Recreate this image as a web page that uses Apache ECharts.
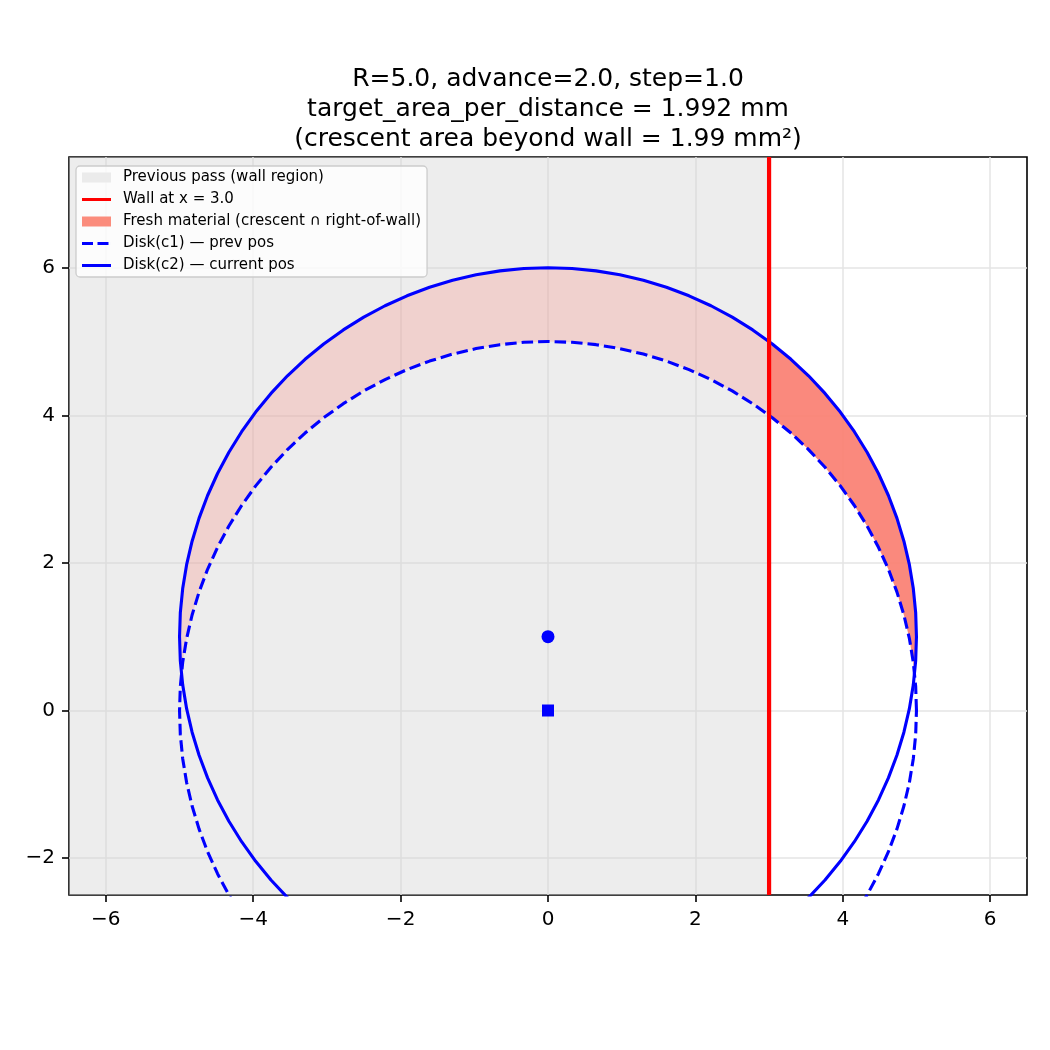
<!DOCTYPE html>
<html>
<head>
<meta charset="utf-8">
<script src="https://cdn.jsdelivr.net/npm/echarts@6/dist/echarts.min.js"></script>
<style>html,body{margin:0;padding:0;background:#fff;}#c{width:1050px;height:1050px;}</style>
</head>
<body>
<div id="c"></div>
<script>
// ---- parameters / data ----
const R = 5.0;
const c1 = [0, 0];          // previous position
const c2 = [0, 1];          // current position
const wallX = 3.0;
const xRange = [-6.5, 6.5];
const yRange = [-2.5, 7.5];
const xTicks = [-6, -4, -2, 0, 2, 4, 6];
const yTicks = [-2, 0, 2, 4, 6];
const titleLines = [
  'R=5.0, advance=2.0, step=1.0',
  'target_area_per_distance = 1.992 mm',
  '(crescent area beyond wall = 1.99 mm\u00b2)'
];
const legendNames = [
  'Previous pass (wall region)',
  'Wall at x = 3.0',
  'Fresh material (crescent \u2229 right-of-wall)',
  'Disk(c1) \u2014 prev pos',
  'Disk(c2) \u2014 current pos'
];

// ---- geometry derived from the parameters ----
const SEG = 96;
function vert(c, k) { const a = 2 * Math.PI * k / SEG; return [c[0] + R * Math.cos(a), c[1] + R * Math.sin(a)]; }
function ring(c) { const p = []; for (let k = 0; k <= SEG; k++) p.push(vert(c, k)); return p; }
const d = c2[1] - c1[1];
const yInt = c1[1] + d / 2;
const xInt = Math.sqrt(R * R - (yInt - c1[1]) * (yInt - c1[1]));
const a2lo = Math.asin((yInt - c2[1]) / R);         // c2 angle at intersection
const a1lo = Math.asin((yInt - c1[1]) / R);         // c1 angle at intersection
const aw2 = Math.acos((wallX - c2[0]) / R);         // c2 angle at wall
const aw1 = Math.acos((wallX - c1[0]) / R);         // c1 angle at wall
function arcVerts(c, a0, a1) { // vertices with angle strictly in (a0,a1), ascending
  const out = [];
  for (let k = -SEG; k <= SEG; k++) { const a = 2 * Math.PI * k / SEG; if (a > a0 && a < a1) out.push(vert(c, k)); }
  return out;
}
const crescent = [[xInt, yInt]].concat(arcVerts(c2, a2lo, Math.PI - a2lo), [[-xInt, yInt]], arcVerts(c1, a1lo, Math.PI - a1lo).reverse());
const fresh = [[xInt, yInt]].concat(arcVerts(c2, a2lo, aw2), [[wallX, c2[1] + R * Math.sin(aw2)], [wallX, c1[1] + R * Math.sin(aw1)]], arcVerts(c1, a1lo, aw1).reverse());
const wallRegion = [[xRange[0], yRange[0]], [wallX, yRange[0]], [wallX, yRange[1]], [xRange[0], yRange[1]]];

const FONT = 'DejaVu Sans';
const minus = v => (v < 0 ? '\u2212' + Math.abs(v) : String(v));

function polySeries(name, pts, color, z) {
  return {
    type: 'custom', name: name, coordinateSystem: 'cartesian2d', clip: true, z: z,
    silent: true, data: [[pts[0][0], pts[0][1]]],
    itemStyle: { color: color },
    renderItem: function (params, api) {
      return { type: 'polygon', shape: { points: pts.map(p => api.coord(p)) }, style: { fill: color } };
    }
  };
}

const chart = echarts.init(document.getElementById('c'), null, { renderer: 'canvas' });
const lineIcon = 'path://M0,0h29v3h-29z';
const dashIcon = 'path://M0,0h11v3h-11z M15.5,0h11v3h-11z M29,0h0.01v3h-0.01z';
chart.setOption({
  backgroundColor: '#fff',
  animation: false,
  title: {
    text: titleLines.join('\n'),
    left: 548, top: 64, padding: 0, textAlign: 'center',
    textStyle: { fontFamily: FONT, fontSize: 25, lineHeight: 30, fontWeight: 'normal', color: '#000' }
  },
  grid: {
    left: 69, right: 23, top: 157, bottom: 155, containLabel: false,
    show: true, borderColor: '#000', borderWidth: 1.6, backgroundColor: 'transparent'
  },
  legend: {
    orient: 'vertical', left: 76, top: 166, padding: [3.5, 6, 3.5, 6],
    itemWidth: 29, itemHeight: 10, itemGap: 6, selectedMode: false,
    backgroundColor: 'rgba(255,255,255,0.8)', borderColor: '#cccccc', borderWidth: 1.3, borderRadius: 4,
    itemStyle: { borderWidth: 0 },
    textStyle: { fontFamily: FONT, fontSize: 15, lineHeight: 16, color: '#000', padding: [0, 0, 0, 7] },
    data: [
      { name: legendNames[0], icon: 'rect', itemStyle: { color: '#ebebeb', borderWidth: 0 } },
      { name: legendNames[1], icon: lineIcon, itemStyle: { color: '#ff0000', borderWidth: 0 } },
      { name: legendNames[2], icon: 'rect', itemStyle: { color: '#fb8c7c', borderWidth: 0 } },
      { name: legendNames[3], icon: dashIcon, itemStyle: { color: '#0000ff', borderWidth: 0 } },
      { name: legendNames[4], icon: lineIcon, itemStyle: { color: '#0000ff', borderWidth: 0 } }
    ]
  },
  xAxis: {
    type: 'value', min: xRange[0], max: xRange[1],
    axisLine: { show: false, onZero: false },
    axisTick: { show: true, customValues: xTicks, length: 7, lineStyle: { color: '#000', width: 1.6 } },
    axisLabel: { customValues: xTicks, formatter: minus, fontFamily: FONT, fontSize: 20, color: '#000', margin: 15 },
    splitLine: { show: true, lineStyle: { color: '#e4e4e4', width: 1.5 } }
  },
  yAxis: {
    type: 'value', min: yRange[0], max: yRange[1],
    axisLine: { show: false, onZero: false },
    axisTick: { show: true, customValues: yTicks, length: 7, lineStyle: { color: '#000', width: 1.6 } },
    axisLabel: { customValues: yTicks, formatter: minus, fontFamily: FONT, fontSize: 20, color: '#000', margin: 14 },
    splitLine: { show: true, lineStyle: { color: '#e4e4e4', width: 1.5 } }
  },
  series: [
    polySeries(legendNames[0], wallRegion, 'rgba(211,211,211,0.42)', 1),
    polySeries('crescent', crescent, 'rgba(250,128,114,0.25)', 2),
    polySeries(legendNames[2], fresh, 'rgba(250,128,114,0.9)', 3),
    {
      type: 'line', name: legendNames[3], data: ring(c1), showSymbol: false, symbol: 'none', z: 4, silent: true,
      lineStyle: { color: '#0000ff', width: 3.1, type: [11.5, 5] }, itemStyle: { color: '#0000ff' }
    },
    {
      type: 'line', name: legendNames[4], data: ring(c2), showSymbol: false, symbol: 'none', z: 4, silent: true,
      lineStyle: { color: '#0000ff', width: 3.1 }, itemStyle: { color: '#0000ff' }
    },
    {
      type: 'line', name: legendNames[1], data: [[wallX, yRange[0]], [wallX, yRange[1]]], showSymbol: false, symbol: 'none', z: 5, silent: true,
      lineStyle: { color: '#ff0000', width: 4.2 }, itemStyle: { color: '#ff0000' }
    },
    {
      type: 'scatter', name: 'c1', data: [c1], symbol: 'rect', symbolSize: 12, z: 6, silent: true,
      itemStyle: { color: '#0000ff', opacity: 1 }
    },
    {
      type: 'scatter', name: 'c2', data: [c2], symbol: 'circle', symbolSize: 13, z: 6, silent: true,
      itemStyle: { color: '#0000ff', opacity: 1 }
    }
  ]
});
</script>
</body>
</html>
